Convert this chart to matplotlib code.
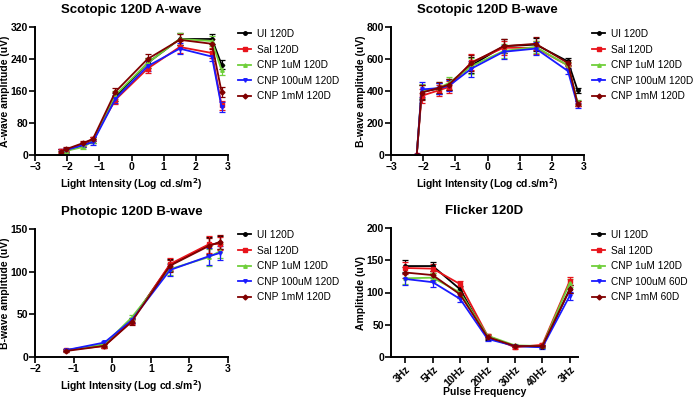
import numpy as np
import matplotlib
matplotlib.use('Agg')
import matplotlib.pyplot as plt
from matplotlib.lines import Line2D

plt.rcParams['font.family'] = ['Liberation Sans', 'DejaVu Sans']

# series styling (shared by all panels)
colors = ['#000000', '#e8141b', '#6fcf3a', '#1a1aff', '#800000']
markers = ['o', 's', '^', 'v', 'D']

# --- Scotopic A-wave ---
scot_x = [-2.2, -2.05, -1.5, -1.2, -0.5, 0.5, 1.5, 2.5, 2.8]
a_labels = ['UI 120D', 'Sal 120D', 'CNP 1uM 120D', 'CNP 100uM 120D', 'CNP 1mM 120D']
a_ui = [5, 10, 25, 35, 145, 230, 290, 290, 226]
a_sal = [10, 12, 28, 40, 138, 216, 270, 255, 124]
a_1um = [5, 10, 20, 35, 150, 230, 290, 285, 212]
a_100um = [8, 12, 25, 32, 140, 222, 266, 246, 120]
a_1mm = [8, 14, 30, 40, 158, 240, 288, 278, 158]
a_err = [6, 5, 5, 6, 10, 12, 14, 12, 12]

# --- Scotopic B-wave ---
b_ui = [0, 395, 415, 440, 560, 680, 690, 585, 405]
b_sal = [0, 370, 405, 425, 580, 670, 670, 560, 320]
b_1um = [0, 400, 420, 450, 555, 650, 675, 560, 330]
b_100um = [0, 410, 418, 432, 540, 645, 665, 525, 310]
b_1mm = [0, 390, 420, 440, 575, 680, 695, 575, 320]
b_err = [5, 45, 35, 35, 50, 45, 40, 20, 15]

# --- Photopic B-wave ---
phot_x = [-1.2, -0.2, 0.5, 1.5, 2.5, 2.8]
p_ui = [8, 14, 43, 108, 131, 134]
p_sal = [8, 13, 42, 109, 132, 133]
p_1um = [8, 15, 46, 103, 117, 124]
p_100um = [8, 17, 43, 102, 118, 122]
p_1mm = [7, 13, 41, 107, 130, 135]
p_err = [1.5, 2, 3, 7, 10, 8]

# --- Flicker ---
flick_cats = ['3Hz', '5Hz', '10Hz', '20Hz', '30Hz', '40Hz', '3Hz']
f_labels = ['UI 120D', 'Sal 120D', 'CNP 1uM 120D', 'CNP 100uM 60D', 'CNP 1mM 60D']
f_ui = [141, 141, 105, 30, 17, 16, 105]
f_sal = [138, 137, 113, 33, 15, 19, 118]
f_1um = [122, 123, 100, 33, 18, 17, 115]
f_100um = [121, 116, 90, 28, 17, 15, 95]
f_1mm = [131, 127, 97, 31, 17, 17, 105]
f_err = [9, 7, 5, 3, 2, 2, 6]


def style_axes(ax):
    for s in ['top', 'right']:
        ax.spines[s].set_visible(False)
    for s in ['left', 'bottom']:
        ax.spines[s].set_linewidth(1.4)
    ax.tick_params(direction='out', length=4, width=1.2, labelsize=7.5, pad=1)
    for lbl in ax.get_xticklabels() + ax.get_yticklabels():
        lbl.set_fontweight('bold')


def draw(ax, x, series, err):
    for ys, c, m in zip(series, colors, markers):
        ax.errorbar(x, ys, yerr=err, color=c, marker=m, markersize=2.5,
                    lw=1.3, elinewidth=0.9, capsize=2, capthick=0.9)


def add_legend(labels, x0, y0):
    handles = [Line2D([], [], color=c, marker=m, markersize=2.5, lw=1.3)
               for c, m in zip(colors, markers)]
    fig.legend(handles, labels, loc='upper left',
               bbox_to_anchor=(x0 / 697, 1 - y0 / 400), frameon=False,
               fontsize=7.3, handlelength=1.3, handletextpad=0.6,
               labelspacing=0.55, borderpad=0, borderaxespad=0)


fig = plt.figure(figsize=(6.97, 4.0), dpi=100)
ax1 = fig.add_axes([35 / 697, 0.6125, 193 / 697, 0.32])
ax2 = fig.add_axes([391 / 697, 0.6125, 193 / 697, 0.32])
ax3 = fig.add_axes([35 / 697, 0.1075, 193 / 697, 0.32])
ax4 = fig.add_axes([391 / 697, 0.1075, 187 / 697, 0.3225])

xlab = 'Light Intensity (Log cd.s/m$^{\\mathbf{2}}$)'
title_kw = dict(fontsize=9.5, fontweight='bold', pad=10)
lab_kw = dict(fontsize=7.5, fontweight='bold')

# panel 1
draw(ax1, scot_x, [a_ui, a_sal, a_1um, a_100um, a_1mm], a_err)
ax1.set_xlim(-3, 3)
ax1.set_ylim(0, 320)
ax1.set_yticks([0, 80, 160, 240, 320])
ax1.set_xticks(range(-3, 4))
ax1.set_title('Scotopic 120D A-wave', **title_kw)
ax1.set_ylabel('A-wave amplitude (uV)', labelpad=0.5, **lab_kw)
ax1.set_xlabel(xlab, labelpad=3, **lab_kw)
style_axes(ax1)
add_legend(a_labels, 238, 29)

# panel 2
draw(ax2, scot_x, [b_ui, b_sal, b_1um, b_100um, b_1mm], b_err)
ax2.set_xlim(-3, 3)
ax2.set_ylim(0, 800)
ax2.set_yticks([0, 200, 400, 600, 800])
ax2.set_xticks(range(-3, 4))
ax2.set_title('Scotopic 120D B-wave', **title_kw)
ax2.set_ylabel('B-wave amplitude (uV)', labelpad=0.5, **lab_kw)
ax2.set_xlabel(xlab, labelpad=3, **lab_kw)
style_axes(ax2)
add_legend(a_labels, 592, 29)

# panel 3
draw(ax3, phot_x, [p_ui, p_sal, p_1um, p_100um, p_1mm], p_err)
ax3.set_xlim(-2, 3)
ax3.set_ylim(0, 150)
ax3.set_yticks([0, 50, 100, 150])
ax3.set_xticks(range(-2, 4))
ax3.set_title('Photopic 120D B-wave', **title_kw)
ax3.set_ylabel('B-wave amplitude (uV)', labelpad=0.5, **lab_kw)
ax3.set_xlabel(xlab, labelpad=3, **lab_kw)
style_axes(ax3)
add_legend(a_labels, 238, 230)

# panel 4
fx = np.arange(len(flick_cats))
draw(ax4, fx, [f_ui, f_sal, f_1um, f_100um, f_1mm], f_err)
ax4.set_xlim(-0.52, 6.3)
ax4.set_ylim(0, 200)
ax4.set_yticks([0, 50, 100, 150, 200])
ax4.set_xticks(fx)
ax4.set_xticklabels(flick_cats, rotation=45, ha='right', rotation_mode='anchor')
ax4.set_title('Flicker 120D', **title_kw)
ax4.set_ylabel('Amplitude (uV)', labelpad=0.5, **lab_kw)
ax4.set_xlabel('Pulse Frequency', labelpad=-1, **lab_kw)
style_axes(ax4)
ax4.tick_params(axis='x', labelsize=7.5, pad=1.5)
add_legend(f_labels, 592, 230)

fig.savefig('out.png', dpi=100)
